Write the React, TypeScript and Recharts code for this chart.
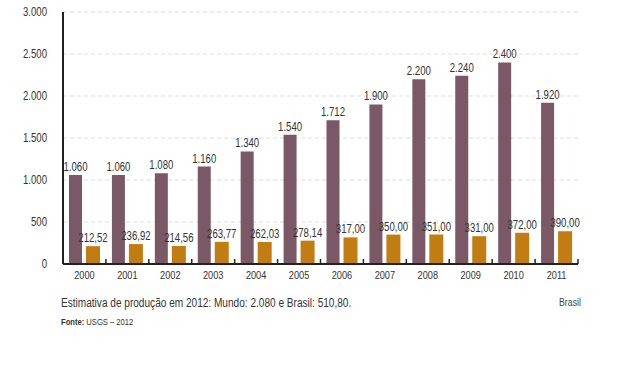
import { BarChart, Bar, XAxis, YAxis, CartesianGrid, LabelList } from 'recharts'

const years = ['2000', '2001', '2002', '2003', '2004', '2005', '2006', '2007', '2008', '2009', '2010', '2011']
const mundo = [1060, 1060, 1080, 1160, 1340, 1540, 1712, 1900, 2200, 2240, 2400, 1920]
const brasil = [212.52, 236.92, 214.56, 263.77, 262.03, 278.14, 317.0, 350.0, 351.0, 331.0, 372.0, 390.0]
const yTicks = [0, 500, 1000, 1500, 2000, 2500, 3000]

const data = years.map((y, i) => ({ year: y, mundo: mundo[i], brasil: brasil[i] }))

const font = '"Liberation Sans", Arial, sans-serif'
const SQUEEZE = 0.8
const fmtInt = (v: any) => Number(v).toLocaleString('pt-BR')
const fmtDec = (v: any) =>
  Number(v).toLocaleString('pt-BR', { minimumFractionDigits: 2, maximumFractionDigits: 2 })

// condensed text, like the narrow font of the original
function Narrow({ x, y, text, anchor, size, dy }: any) {
  return (
    <text
      transform={`translate(${x},${y}) scale(${SQUEEZE},1)`}
      textAnchor={anchor}
      fontSize={size}
      fill="#333"
      fontFamily={font}
      dy={dy}
    >
      {text}
    </text>
  )
}

// year label + small upward tick on the right border of each band
const XTick = ({ x, y, payload }: any) => {
  const half = Number(payload?.offset) || 0
  return (
    <g>
      {half > 0 && <line x1={x + half} x2={x + half} y1={y} y2={y - 5} stroke="#222" strokeWidth={1.5} />}
      <Narrow x={x} y={y + 7} text={payload.value} anchor="middle" size={11.5} dy="0.71em" />
    </g>
  )
}
const YTick = ({ x, y, payload }: any) => <Narrow x={x} y={y} text={fmtInt(payload.value)} anchor="end" size={12} dy="0.355em" />

const topLabel = (fmt: (v: any) => string) => (props: any) => {
  const { x, y, width, value } = props
  return <Narrow x={Number(x) + Number(width) / 2} y={Number(y) - 4} text={fmt(value)} anchor="middle" size={12} />
}

export default function App() {
  return (
    <div style={{ position: 'absolute', left: 0, top: 0, width: 625, height: 384, background: '#fff', fontFamily: font }}>
      <BarChart
        width={625}
        height={384}
        data={data}
        margin={{ top: 12, right: 47, left: 0, bottom: 100 }}
        barCategoryGap="14%"
        barGap={4}
      >
        <CartesianGrid vertical={false} strokeDasharray="4 3" stroke="#dcdcdc" />
        <XAxis
          dataKey="year"
          height={20}
          axisLine={{ stroke: '#222', strokeWidth: 2 }}
          tickLine={false}
          tickSize={0}
          tickMargin={0}
          tick={XTick}
        />
        <YAxis
          width={63}
          domain={[0, 3000]}
          ticks={yTicks}
          axisLine={{ stroke: '#222', strokeWidth: 2 }}
          tickLine={false}
          tick={YTick}
          tickMargin={10}
        />
        <Bar dataKey="mundo" fill="#7a5866" barSize={13} isAnimationActive={false}>
          <LabelList dataKey="mundo" content={topLabel(fmtInt)} />
        </Bar>
        <Bar dataKey="brasil" fill="#c17d12" barSize={14} isAnimationActive={false}>
          <LabelList dataKey="brasil" content={topLabel(fmtDec)} />
        </Bar>
      </BarChart>
      <div
        style={{
          position: 'absolute', left: 61, top: 296, fontSize: 12, color: '#333',
          transform: 'scaleX(0.84)', transformOrigin: 'left top', whiteSpace: 'nowrap',
        }}
      >
        Estimativa de produção em 2012: Mundo: 2.080 e Brasil: 510,80.
      </div>
      <div
        style={{
          position: 'absolute', left: 61, top: 316, fontSize: 9.5, color: '#333',
          transform: 'scaleX(0.8)', transformOrigin: 'left top', whiteSpace: 'nowrap',
        }}
      >
        <b>Fonte:</b> USGS – 2012
      </div>
      <div
        style={{
          position: 'absolute', left: 559, top: 296, fontSize: 11, color: '#444',
          transform: 'scaleX(0.8)', transformOrigin: 'left top',
        }}
      >
        Brasil
      </div>
    </div>
  )
}
